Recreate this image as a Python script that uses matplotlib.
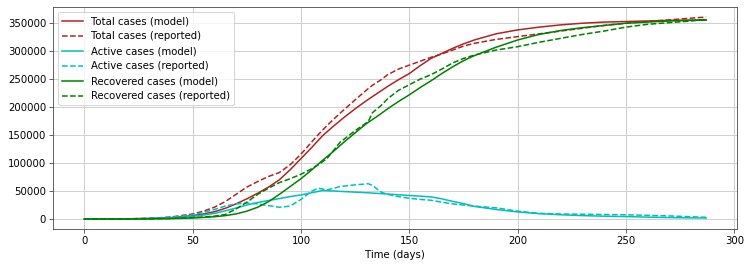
import matplotlib
matplotlib.use("Agg")
import matplotlib.pyplot as plt

# model curves
days_model = [0, 20, 30, 40, 50, 55, 60, 65, 70, 75, 80, 85, 90, 95, 100, 105, 110, 115, 120, 125,
              130, 135, 140, 145, 150, 155, 160, 165, 170, 175, 180, 190, 200, 210, 220, 230, 240,
              250, 260, 270, 280, 287]
total_model = [0, 300, 1000, 2500, 6000, 9000, 13000, 19000, 27000, 36000, 46000, 57000, 70000, 88000,
               108000, 128000, 149000, 166000, 182000, 197000, 211000, 224000, 237000, 249000, 260000,
               274000, 287000, 296000, 305000, 313000, 320000, 331000, 338000, 343000, 347000, 350000,
               352000, 353000, 354000, 355000, 355500, 356000]
active_model = [0, 200, 700, 2000, 4500, 7000, 10000, 14500, 19500, 25000, 29500, 33000, 36500, 40000,
                43000, 47000, 51000, 50000, 49000, 48000, 47000, 45800, 44600, 43300, 42000, 40800,
                39500, 36000, 31500, 27500, 22500, 17000, 12600, 9500, 7500, 6000, 5000, 4300, 3300,
                2600, 2000, 1800]
recovered_model = [0, 0, 200, 700, 1800, 2800, 4000, 6000, 9000, 14000, 21000, 31000, 44000, 58000,
                   72000, 88000, 105000, 121000, 138000, 154000, 170000, 183000, 197000, 210000, 222000,
                   235000, 247000, 260000, 272000, 283000, 292000, 307000, 320000, 330000, 337000,
                   342000, 346000, 350000, 352000, 354000, 355000, 355500]

# reported data
days_reported = [0, 20, 30, 40, 50, 55, 60, 65, 70, 75, 80, 85, 90, 95, 100, 105, 108, 112, 118, 125,
                 131, 133, 137, 140, 145, 150, 155, 160, 165, 170, 175, 180, 190, 200, 210, 220, 230,
                 240, 250, 260, 270, 280, 287]
total_reported = [0, 300, 1200, 3500, 9000, 14000, 21000, 31000, 44000, 57000, 67000, 76000, 83000,
                  97000, 116000, 138000, 151000, 167000, 189000, 213000, 233000, 239000, 249000, 258000,
                  268000, 275000, 282000, 289000, 295000, 302000, 309000, 314000, 321000, 326000,
                  331000, 336000, 341000, 346000, 350000, 353000, 356000, 359000, 361000]
active_reported = [0, 200, 900, 3000, 7500, 12000, 17000, 23000, 27000, 28500, 27000, 24000, 21000,
                   23000, 35000, 50000, 55000, 52000, 58000, 61000, 63000, 60000, 48000, 44000, 40000,
                   37000, 35000, 33500, 30000, 27000, 25000, 23000, 20000, 14000, 10000, 9000, 8500,
                   8000, 7500, 6500, 5500, 4000, 3000]
recovered_reported = [0, 0, 300, 1000, 2500, 3500, 5000, 8000, 18000, 30000, 44000, 55000, 65000,
                      72000, 80000, 90000, 97000, 108000, 137000, 158000, 174000, 190000, 203000,
                      215000, 230000, 240000, 250000, 258000, 268000, 279000, 287000, 293000, 302000,
                      308000, 316000, 323000, 330000, 336000, 343000, 348000, 351000, 354000, 357000]

fig = plt.figure(figsize=(750 / 73, 267 / 73), dpi=73)
fig.subplots_adjust(left=0.071, right=0.983, bottom=0.142, top=0.974)
ax = fig.add_subplot(111)

ax.plot(days_model, total_model, color='firebrick', label='Total cases (model)')
ax.plot(days_reported, total_reported, '--', color='firebrick', label='Total cases (reported)')
ax.plot(days_model, active_model, color='c', label='Active cases (model)')
ax.plot(days_reported, active_reported, '--', color='c', label='Active cases (reported)')
ax.plot(days_model, recovered_model, color='g', label='Recovered cases (model)')
ax.plot(days_reported, recovered_reported, '--', color='g', label='Recovered cases (reported)')

ax.set_xlabel('Time (days)')
ax.grid(True, color='#d0d0d0', linewidth=1.0)
for s in ax.spines.values():
    s.set_color('#444444')
ax.tick_params(color='#444444')
ax.legend(loc='upper left')

fig.savefig('out.png', dpi=73)
